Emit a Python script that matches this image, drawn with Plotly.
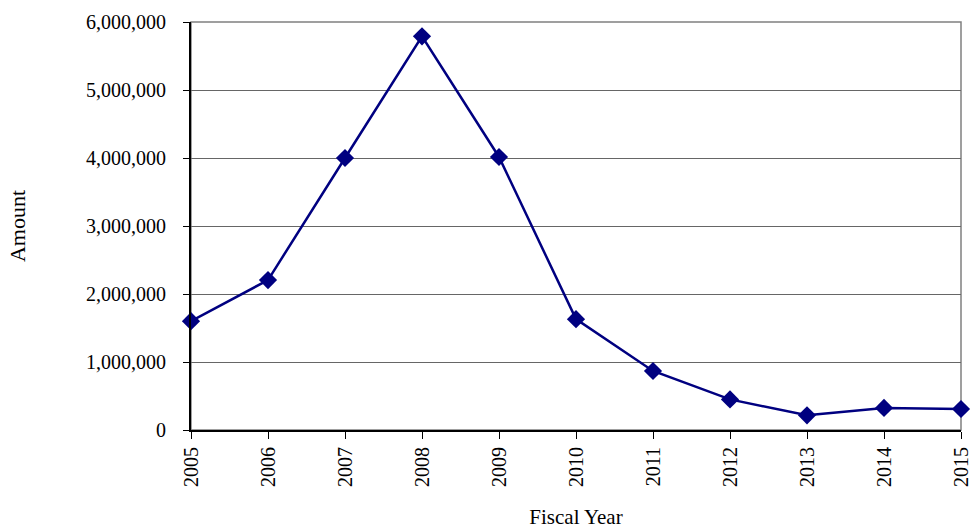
import plotly.graph_objects as go

years = [2005, 2006, 2007, 2008, 2009, 2010, 2011, 2012, 2013, 2014, 2015]
amounts = [1600000, 2205000, 4000000, 5790000, 4015000, 1630000,
           868000, 450000, 216000, 324000, 309000]
y_ticks = [0, 1000000, 2000000, 3000000, 4000000, 5000000, 6000000]
y_tick_labels = ["0", "1,000,000", "2,000,000", "3,000,000",
                 "4,000,000", "5,000,000", "6,000,000"]

NAVY = "#000080"
FONT = "Liberation Serif, Times New Roman, serif"

fig = go.Figure()
fig.add_trace(go.Scatter(
    x=years, y=amounts, mode="lines+markers",
    line=dict(color=NAVY, width=2.5),
    marker=dict(symbol="diamond", size=14, color=NAVY),
    cliponaxis=False, showlegend=False,
))

# plot-area frame: gray on top and right
fig.add_shape(type="rect", xref="paper", yref="paper", x0=0, x1=1, y0=0, y1=1,
              line=dict(color="#808080", width=1.5), layer="below")

fig.update_layout(
    width=971, height=531,
    margin=dict(l=191, r=10, t=22, b=101),
    paper_bgcolor="white", plot_bgcolor="white",
    font=dict(family=FONT, size=20, color="black"),
)
fig.update_xaxes(
    range=[2005, 2015], tickmode="array", tickvals=years,
    ticktext=[str(y) for y in years], tickangle=-90,
    ticks="outside", ticklen=7, tickcolor="black",
    tickfont=dict(size=20), ticklabeloverflow="allow", automargin=False,
    showline=True, linecolor="black", linewidth=2,
    showgrid=False, zeroline=False,
    title=dict(text="Fiscal Year", standoff=23, font=dict(size=21)),
)
fig.update_yaxes(
    range=[0, 6000000], tickmode="array", tickvals=y_ticks,
    ticktext=y_tick_labels, automargin=False,
    ticks="outside", ticklen=6, tickcolor="black",
    tickfont=dict(size=20), ticklabelstandoff=13,
    showline=True, linecolor="black", linewidth=2,
    showgrid=True, gridcolor="#666666", gridwidth=1, zeroline=False,
    title=dict(text="Amount", standoff=54, font=dict(size=22)),
)

fig.write_html("out.html")
